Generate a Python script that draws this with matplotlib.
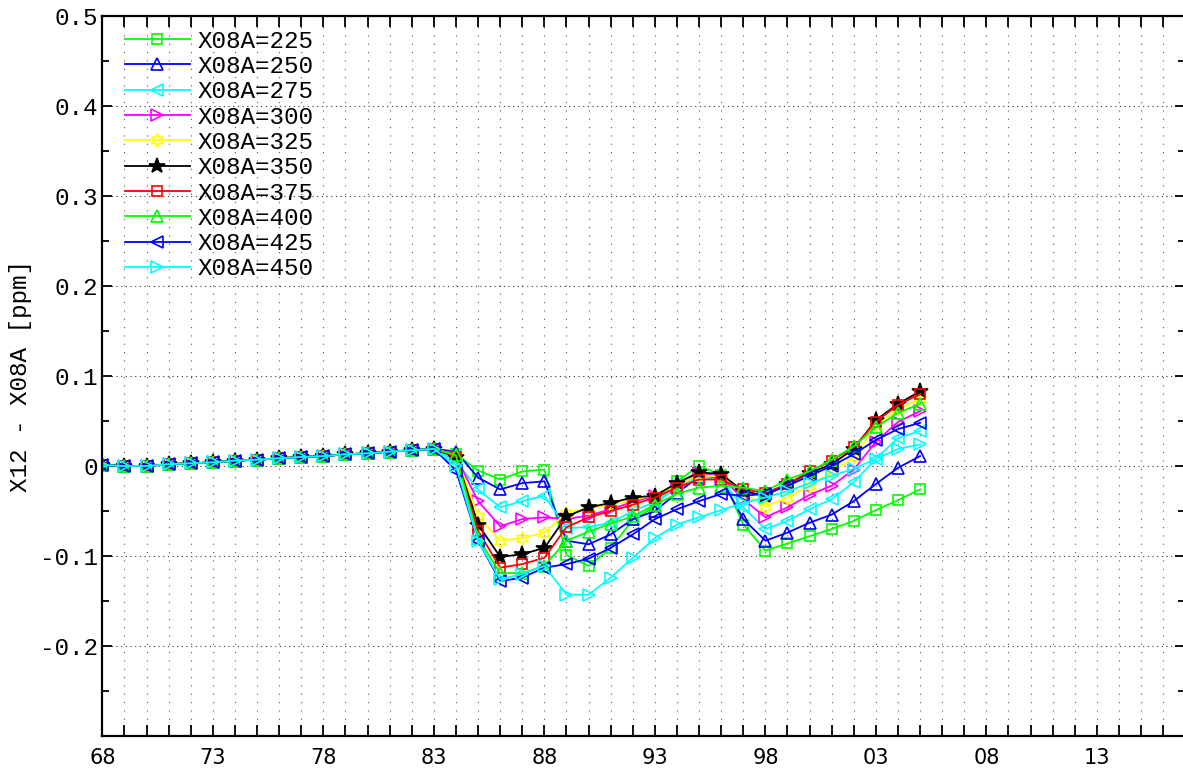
import numpy as np
import matplotlib
matplotlib.use('Agg')
import matplotlib.pyplot as plt
from matplotlib.ticker import MultipleLocator

# shared part of every run, 1968-1983
base_years = list(range(1968, 1984))
base_diff = [0.001, 0.0, 0.0, 0.002, 0.003, 0.004, 0.006, 0.007,
             0.0085, 0.010, 0.011, 0.013, 0.014, 0.016, 0.0175, 0.019]

# runs split apart from 1984 to 2005
tail_years = list(range(1984, 2006))
d225 = [0.013, -0.005, -0.015, -0.006, -0.004, -0.099, -0.111, -0.091, -0.060, -0.045, -0.017,
        0.000, -0.010, -0.065, -0.094, -0.086, -0.078, -0.070, -0.061, -0.049, -0.038, -0.026]
d250 = [0.016, -0.013, -0.026, -0.019, -0.017, -0.083, -0.087, -0.076, -0.059, -0.050, -0.030,
        -0.012, -0.014, -0.059, -0.083, -0.074, -0.063, -0.054, -0.039, -0.020, -0.002, 0.011]
d275 = [0.005, -0.026, -0.046, -0.039, -0.033, -0.069, -0.068, -0.063, -0.050, -0.040, -0.025,
        -0.012, -0.015, -0.046, -0.070, -0.061, -0.048, -0.037, -0.018, 0.008, 0.031, 0.039]
d300 = [0.010, -0.039, -0.067, -0.059, -0.057, -0.059, -0.055, -0.048, -0.040, -0.033, -0.024,
        -0.008, -0.012, -0.037, -0.057, -0.046, -0.032, -0.022, -0.004, 0.027, 0.049, 0.061]
d325 = [0.012, -0.056, -0.083, -0.080, -0.074, -0.052, -0.047, -0.043, -0.038, -0.032, -0.022,
        -0.010, -0.012, -0.030, -0.045, -0.035, -0.022, -0.007, 0.010, 0.045, 0.063, 0.075]
d350 = [0.010, -0.065, -0.101, -0.098, -0.091, -0.056, -0.046, -0.041, -0.035, -0.033, -0.019,
        -0.007, -0.009, -0.028, -0.033, -0.020, -0.008, 0.002, 0.019, 0.051, 0.069, 0.083]
d375 = [0.010, -0.072, -0.113, -0.109, -0.102, -0.068, -0.057, -0.050, -0.043, -0.035, -0.024,
        -0.015, -0.015, -0.026, -0.030, -0.020, -0.006, 0.006, 0.021, 0.049, 0.068, 0.080]
d400 = [0.012, -0.080, -0.119, -0.119, -0.111, -0.083, -0.073, -0.064, -0.056, -0.043, -0.031,
        -0.024, -0.022, -0.024, -0.028, -0.015, -0.006, 0.007, 0.022, 0.043, 0.059, 0.069]
d425 = [-0.005, -0.083, -0.128, -0.124, -0.113, -0.109, -0.103, -0.091, -0.076, -0.059, -0.048,
        -0.039, -0.031, -0.033, -0.031, -0.022, -0.011, 0.000, 0.013, 0.029, 0.041, 0.048]
d450 = [0.000, -0.083, -0.126, -0.120, -0.111, -0.143, -0.143, -0.124, -0.102, -0.080, -0.065,
        -0.057, -0.049, -0.041, -0.035, -0.028, -0.019, -0.011, -0.003, 0.008, 0.019, 0.024]

labels = ['X08A=225', 'X08A=250', 'X08A=275', 'X08A=300', 'X08A=325',
          'X08A=350', 'X08A=375', 'X08A=400', 'X08A=425', 'X08A=450']
tails = [d225, d250, d275, d300, d325, d350, d375, d400, d425, d450]

xtick_labels = ['68', '73', '78', '83', '88', '93', '98', '03', '08', '13']
ytick_values = [-0.2, -0.1, 0.0, 0.1, 0.2, 0.3, 0.4, 0.5]
ytick_labels = ['-0.2', '-0.1', '0', '0.1', '0.2', '0.3', '0.4', '0.5']

colors = ['#00ff00', '#0000ff', '#00ffff', '#ff00ff', '#ffff00',
          'black', '#ff0000', '#00ff00', '#0000ff', '#00ffff']
markers = ['s', '^', '<', '>', (6, 1, 0), '*', 's', '^', '<', '>']
msizes = [7, 8.5, 8.5, 8.5, 9.5, 11.5, 7, 8.5, 8.5, 8.5]

mono = 'Liberation Mono'

fig = plt.figure(figsize=(11.83, 7.71), dpi=100)
W, H = 1183.0, 771.0
ax = fig.add_axes([102.4 / W, 35 / H, (1185.3 - 102.4) / W, 720 / H])

years = base_years + tail_years
for lab, tail, c, m, ms in zip(labels, tails, colors, markers, msizes):
    vals = base_diff + tail
    face = c if m == '*' else 'none'
    ax.plot(years, vals, color=c, lw=1.3, marker=m, ms=ms,
            mfc=face, mec=c, mew=1.2, label=lab)

ax.set_xlim(1968, 2017)
ax.set_ylim(-0.3, 0.5)

# every year gets a tick, only every fifth one a label
xt = np.arange(1968, 2017)
ax.set_xticks(xt)
ax.set_xticklabels([xtick_labels[(y - 1968) // 5] if (y - 1968) % 5 == 0 else '' for y in xt],
                   fontsize=15, family='DejaVu Sans')
ax.set_yticks(ytick_values)
ax.set_yticklabels(ytick_labels, fontsize=17.5, family=mono)
ax.yaxis.set_minor_locator(MultipleLocator(0.05))

ax.tick_params(axis='x', which='major', direction='in', length=8, width=1.3,
               top=True, bottom=True, pad=9)
ax.tick_params(axis='y', which='major', direction='in', length=7.5, width=1.3,
               left=True, right=True, pad=3)
ax.tick_params(axis='y', which='minor', direction='in', length=5, width=1.3,
               left=True, right=True)
for s in ax.spines.values():
    s.set_linewidth(1.6)

# dotted grid: sparse dots on the yearly verticals, denser on the 0.1 rows
for y in xt[1:]:
    ax.axvline(y, color='0.35', lw=0.8, ls=(0, (1, 6.5)), zorder=0)
for v in ytick_values:
    ax.axhline(v, color='0.2', lw=0.8, ls=(0, (1, 3.2)), zorder=0)

ax.set_ylabel('X12 - X08A [ppm]', fontsize=17.5, family=mono, labelpad=6)

ax.legend(loc='upper left', bbox_to_anchor=(0.0209, 0.981), frameon=False,
          prop={'family': mono, 'size': 17.5}, handlelength=2.67,
          handletextpad=0.33, labelspacing=0.095, borderpad=0, borderaxespad=0)

fig.savefig('out.png', dpi=100)
